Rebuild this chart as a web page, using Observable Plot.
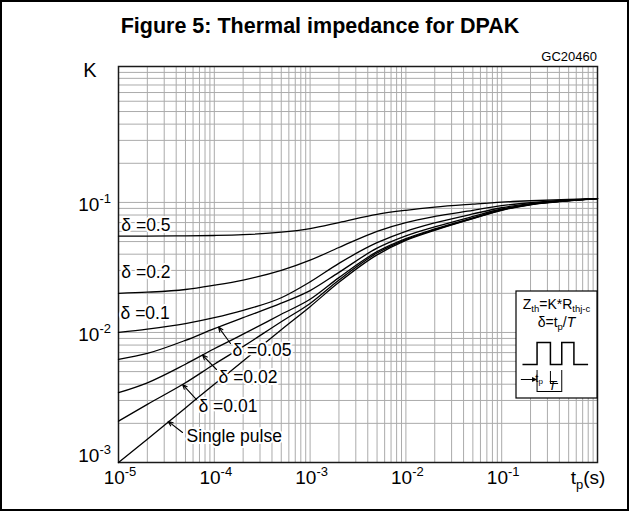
<!DOCTYPE html>
<html><head><meta charset="utf-8">
<script src="https://cdn.jsdelivr.net/npm/d3@7"></script>
<script src="https://cdn.jsdelivr.net/npm/@observablehq/plot@0.6"></script>
<style>
html,body{margin:0;padding:0;background:#fff;}
#chart svg{display:block}
</style></head><body><div id="chart"></div>
<script>
// pulse duration t_p (s)
const tp = [1e-5, 2e-5, 5e-5, 1e-4, 2e-4, 5e-4, 1e-3, 2e-3, 5e-3, 1e-2, 2e-2, 5e-2, 0.1, 0.2, 0.5, 1];
// K values per duty cycle
const k05    = [0.0551, 0.0551, 0.0553, 0.0557, 0.0565, 0.0590, 0.063, 0.070, 0.081, 0.087, 0.092, 0.097, 0.1005, 0.103, 0.1055, 0.107];
const k02    = [0.0200, 0.0204, 0.0214, 0.0231, 0.0253, 0.0300, 0.036, 0.045, 0.060, 0.070, 0.078, 0.087, 0.0945, 0.0995, 0.1045, 0.107];
const k01    = [0.0100, 0.0106, 0.0117, 0.0130, 0.0148, 0.0185, 0.0245, 0.034, 0.049, 0.060, 0.0695, 0.0815, 0.091, 0.098, 0.1038, 0.107];
const k005   = [0.0062, 0.0069, 0.0087, 0.0107, 0.0130, 0.0168, 0.0210, 0.029, 0.0445, 0.0553, 0.0648, 0.078, 0.089, 0.0972, 0.1034, 0.107];
const k002   = [0.00344, 0.0041, 0.0057, 0.0075, 0.0097, 0.0138, 0.0180, 0.0264, 0.0418, 0.0527, 0.0625, 0.0762, 0.0879, 0.0965, 0.1032, 0.107];
const k001   = [0.00208, 0.0028, 0.0041, 0.0057, 0.0078, 0.0121, 0.0167, 0.0253, 0.0408, 0.0518, 0.0617, 0.0755, 0.0874, 0.0962, 0.1031, 0.107];
const single = [0.0010, 0.00151, 0.00263, 0.0040, 0.00603, 0.0105, 0.0158, 0.0243, 0.0395, 0.051, 0.061, 0.075, 0.087, 0.096, 0.103, 0.107];
const seriesList = [k05, k02, k01, k005, k002, k001, single];

// curve labels (anchor in data space)
const labelText = ["δ =0.5", "δ =0.2", "δ =0.1", "δ =0.05", "δ =0.02", "δ =0.01", "Single pulse"];
const labelX = [1.07e-5, 1.07e-5, 1.05e-5, 1.549e-4, 1.107e-4, 6.84e-5, 5.13e-5];
const labelY = [0.0600, 0.0262, 0.01259, 0.00654, 0.00412, 0.00243, 0.00145];
// leader arrows
const arrowX1 = [1.476e-4, 1.054e-4, 6.52e-5, 4.66e-5];
const arrowY1 = [0.00822, 0.00519, 0.00305, 0.00170];
const arrowX2 = [1.107e-4, 7.53e-5, 4.66e-5, 3.3e-5];
const arrowY2 = [0.0110, 0.0067, 0.00398, 0.00207];

// ticks
const xExp = [-5, -4, -3, -2, -1];
const yExp = [-3, -2, -1];
const xGrid = [];
for (let e = -5; e < 0; e++) for (let m = 1; m <= 9; m++) xGrid.push(m * Math.pow(10, e));
xGrid.push(1);
const yGrid = [];
for (let e = -3; e < 0; e++) for (let m = 1; m <= 9; m++) yGrid.push(m * Math.pow(10, e));
yGrid.push(1);

const font = "Liberation Sans, Arial, Helvetica, sans-serif";

const labels = labelText.map((t, i) => ({t, x: labelX[i], y: labelY[i]}));
const arrows = arrowX1.map((v, i) => ({x1: v, y1: arrowY1[i], x2: arrowX2[i], y2: arrowY2[i]}));

const plot = Plot.plot({
  width: 629, height: 511,
  marginLeft: 118, marginRight: 32, marginTop: 66, marginBottom: 49,
  style: {background: "transparent", fontFamily: font},
  x: {type: "log", domain: [1e-5, 1], axis: null},
  y: {type: "log", domain: [1e-3, 1.11], axis: null},
  marks: [
    Plot.gridX(xGrid, {stroke: "#ababab", strokeOpacity: 1, strokeWidth: 1}),
    Plot.gridY(yGrid, {stroke: "#ababab", strokeOpacity: 1, strokeWidth: 1}),
    Plot.frame({stroke: "#1a1a1a", strokeWidth: 1.5}),
    ...seriesList.map(vals => Plot.line(tp.map((t, i) => ({t, k: vals[i]})),
      {x: "t", y: "k", stroke: "black", strokeWidth: 1.3, curve: "monotone-x"})),
    Plot.text(labels, {x: "x", y: "y", text: "t", textAnchor: "start", lineAnchor: "bottom",
      fontSize: 17.5, fill: "black", stroke: "white", strokeWidth: 4}),
    Plot.arrow(arrows, {x1: "x1", y1: "y1", x2: "x2", y2: "y2", stroke: "black",
      strokeWidth: 1.1, headLength: 7, headAngle: 45})
  ]
});

const sx = plot.scale("x"), sy = plot.scale("y");
const svg = d3.select(plot);
svg.attr("font-family", font);

// outer border
svg.append("rect").attr("x", 1).attr("y", 1).attr("width", 627).attr("height", 509)
  .attr("fill", "none").attr("stroke", "black").attr("stroke-width", 2);

// title
svg.append("text").attr("x", 320).attr("y", 33).attr("text-anchor", "middle")
  .attr("font-size", 21.5).attr("font-weight", "bold").text("Figure 5: Thermal impedance for DPAK");

// code and unit
svg.append("text").attr("x", 597).attr("y", 61).attr("text-anchor", "end")
  .attr("font-size", 13).text("GC20460");
svg.append("text").attr("x", 90).attr("y", 77).attr("font-size", 20).text("K");

// x tick labels
const xl = svg.append("g").attr("font-size", 19).attr("text-anchor", "middle");
xExp.forEach(e => {
  const t = xl.append("text").attr("x", sx.apply(Math.pow(10, e)) + 2).attr("y", 484);
  t.append("tspan").text("10");
  t.append("tspan").attr("font-size", 13).attr("dy", -8).text("-" + Math.abs(e));
});
// x unit
const tu = svg.append("text").attr("x", 588).attr("y", 484).attr("font-size", 19);
tu.append("tspan").text("t");
tu.append("tspan").attr("font-size", 13).attr("dy", 5).text("p");
tu.append("tspan").attr("dy", -5).text("(s)");

// y tick labels
const yl = svg.append("g").attr("font-size", 19).attr("text-anchor", "end");
yExp.forEach(e => {
  const t = yl.append("text").attr("x", 111).attr("y", sy.apply(Math.pow(10, e)) + (e === -3 ? 0 : 9));
  t.append("tspan").text("10");
  t.append("tspan").attr("font-size", 13).attr("dy", -8).text("-" + Math.abs(e));
});

// inset legend box
const bx = 516, bw = 81;
const g = svg.append("g");
g.append("rect").attr("x", bx).attr("y", 291).attr("width", bw).attr("height", 107)
  .attr("fill", "white").attr("stroke", "black").attr("stroke-width", 1.2);
const z = g.append("text").attr("x", bx + bw / 2).attr("y", 309).attr("text-anchor", "middle").attr("font-size", 14);
z.append("tspan").text("Z");
z.append("tspan").attr("font-size", 9.5).attr("dy", 3).text("th");
z.append("tspan").attr("dy", -3).text("=K*R");
z.append("tspan").attr("font-size", 9.5).attr("dy", 3).text("thj-c");
const dlt = g.append("text").attr("x", bx + bw / 2).attr("y", 327).attr("text-anchor", "middle").attr("font-size", 14);
dlt.append("tspan").text("δ=t");
dlt.append("tspan").attr("font-size", 9.5).attr("dy", 3).text("p");
dlt.append("tspan").attr("dy", -3).text("/");
dlt.append("tspan").attr("font-style", "italic").text("T");
const px = f => bx + bw * f;
g.append("path").attr("d", `M${px(0.08)},364.5H${px(0.26)}V342.5H${px(0.425)}V364.5H${px(0.565)}V342.5H${px(0.715)}V364.5H${px(0.89)}`)
  .attr("fill", "none").attr("stroke", "black").attr("stroke-width", 1.5);
const ln = (d, w) => g.append("path").attr("d", d).attr("fill", "none").attr("stroke", "black").attr("stroke-width", w || 1);
ln(`M${px(0.06)},379.5H${px(0.24)}`);
g.append("path").attr("d", `M${px(0.26)},379.5L${px(0.26) - 5},377L${px(0.26) - 5},382Z`).attr("fill", "black");
ln(`M${px(0.26)},370V392`);
ln(`M${px(0.425)},371V384`);
ln(`M${px(0.425)},383.5H${px(0.52)}`);
ln(`M${px(0.26)},391.5H${px(0.565)}`);
ln(`M${px(0.565)},370V392`);
const tpl = g.append("text").attr("x", px(0.285)).attr("y", 382).attr("font-size", 11);
tpl.append("tspan").text("t");
tpl.append("tspan").attr("font-size", 8).attr("dy", 2).text("p");
g.append("text").attr("x", px(0.45)).attr("y", 390).attr("text-anchor", "middle").attr("font-size", 13)
  .attr("font-style", "italic").text("T");

document.getElementById("chart").appendChild(plot);
</script>
</body></html>
